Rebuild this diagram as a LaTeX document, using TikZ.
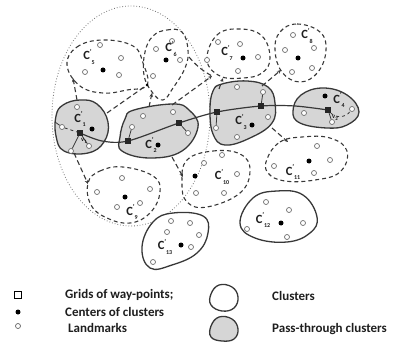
\documentclass[tikz,border=0pt]{standalone}
\usepackage{fontspec}
\setmainfont{Carlito}
\usetikzlibrary{arrows.meta}
\definecolor{outl}{HTML}{383838}
\definecolor{passfill}{HTML}{D6D6D6}
\definecolor{lmcol}{HTML}{707070}
\definecolor{txt}{HTML}{1E1E1E}
\newcommand\clab[1]{C\raisebox{0.85ex}{\fontsize{7}{7}\selectfont '}\raisebox{-0.7ex}{\fontsize{6}{6}\selectfont #1}}
\newcommand\vlab[1]{v\raisebox{-0.4ex}{\fontsize{5}{5}\selectfont #1}}
\tikzset{
  clus/.style={draw=outl, line width=1.3pt, fill=white},
  pass/.style={draw=outl, line width=1.3pt, fill=passfill},
  dcl/.style={draw=outl, line width=1.1pt, dash pattern=on 4pt off 3pt},
  link/.style={draw=outl, line width=1.1pt, dash pattern=on 5pt off 3pt, -{Stealth[length=4pt,width=3.5pt]}},
  plainlink/.style={draw=outl, line width=1.1pt, dash pattern=on 5pt off 3pt},
  lm/.style={circle, draw=lmcol, line width=0.7pt, fill=white, minimum size=5pt, inner sep=0pt},
  ctr/.style={circle, fill=black, minimum size=5pt, inner sep=0pt},
  jdot/.style={circle, fill=black, minimum size=3pt, inner sep=0pt},
  wp/.style={rectangle, fill=black!85, minimum size=6pt, inner sep=0pt},
  route/.style={draw=outl, line width=1.2pt},
  spoke/.style={draw=outl, line width=0.8pt},
  lab/.style={font=\bfseries\fontsize{12.5}{12.5}\selectfont, text=txt, inner sep=0pt},
  vl/.style={font=\bfseries\fontsize{6.5}{6.5}\selectfont, text=txt, inner sep=0pt},
  legtext/.style={font=\bfseries\fontsize{13}{14}\selectfont, text=txt, anchor=west, inner sep=0pt},
  region/.style={draw=black!55, line width=0.8pt, dotted},
}
\begin{document}
\begin{tikzpicture}[x=1pt,y=-1pt]
\useasboundingbox (0,0) rectangle (393,342);

% dotted region
\draw[region] (131,116) ellipse [x radius=79, y radius=110];

% dashed clusters
\draw[dcl] plot[smooth cycle, tension=0.7] coordinates {(67,65) (77,47) (103,40) (133,46) (143,63) (147,85) (127,90) (103,93) (80,86)};
\draw[dcl] plot[smooth cycle, tension=0.7] coordinates {(153,36) (167,30) (182,32) (188,50) (185,68) (173,88) (163,100) (152,92) (144,75) (145,52)};
\draw[dcl] plot[smooth cycle, tension=0.7] coordinates {(207,60) (217,35) (240,29) (262,36) (270,58) (262,73) (243,78) (220,76)};
\draw[dcl] plot[smooth cycle, tension=0.7] coordinates {(280,32) (297,24) (320,32) (326,50) (318,72) (300,82) (282,72) (275,50)};
\draw[dcl] plot[smooth cycle, tension=0.7] coordinates {(88,183) (100,171) (123,167) (153,176) (160,192) (150,213) (130,223) (107,218) (91,205)};
\draw[dcl] plot[smooth cycle, tension=0.7] coordinates {(187,160) (213,151) (240,154) (250,170) (240,193) (207,207) (187,202) (182,183)};
\draw[dcl] plot[smooth cycle, tension=0.7] coordinates {(267,159) (280,142) (302,137) (330,138) (347,151) (340,172) (315,180) (285,181) (268,173)};

% solid clusters
\draw[clus] plot[smooth cycle, tension=0.7] coordinates {(240,223) (253,198) (277,191) (303,195) (317,217) (310,233) (287,242) (255,238)};
\draw[clus] plot[smooth cycle, tension=0.7] coordinates {(153,222) (173,213) (203,216) (208,233) (197,253) (172,265) (150,268) (142,247)};

% pass-through clusters
\draw[pass] plot[smooth cycle, tension=0.7] coordinates {(63,105) (80,100) (97,104) (108,122) (104,142) (88,153) (64,151) (56,136) (56,116)};
\draw[pass] plot[smooth cycle, tension=0.7] coordinates {(125,119) (134,110) (173,104) (189,110) (198,127) (182,151) (150,158) (122,151) (120,137)};
\draw[pass] plot[smooth cycle, tension=0.7] coordinates {(213,91) (222,84) (247,81) (268,87) (275,103) (272,123) (250,138) (225,145) (213,134) (210,110)};
\draw[pass] plot[smooth cycle, tension=0.7] coordinates {(293,111) (301,95) (323,88) (347,95) (359,112) (347,125) (327,128) (300,123)};

% centres
\node[ctr] (k1) at (92,129) {};
\node[ctr] (k2) at (158,145) {};
\node[ctr] (k3) at (252,125) {};
\node[ctr] (k4) at (325,96) {};
\node[ctr] (k5) at (103,70) {};
\node[ctr] (k6) at (166,60) {};
\node[ctr] (k7) at (243,58) {};
\node[ctr] (k8) at (298,58) {};
\node[ctr] (k9) at (125,197) {};
\node[ctr] (k10) at (195,176) {};
\node[ctr] (k11) at (309,161) {};
\node[ctr] (k12) at (281,223) {};
\node[ctr] (k13) at (181,245) {};

% landmarks tied to way-points
\node[lm] (a1) at (77,107) {};
\node[lm] (a2) at (62,127) {};
\node[lm] (a3) at (89,146) {};
\node[lm] (a4) at (71,151) {};
\node[lm] (b1) at (143,116) {};
\node[lm] (b2) at (173,112) {};
\node[lm] (b3) at (132,127) {};
\node[lm] (b4) at (188,133) {};
\node[lm] (c1) at (237,87) {};
\node[lm] (c2) at (263,92) {};
\node[lm] (c3) at (216,128) {};
\node[lm] (c4) at (268,117) {};
\node[lm] (c5) at (237,137) {};
\node[lm] (d1) at (304,113) {};
\node[lm] (d2) at (352,109) {};
\node[lm] (d3) at (332,122) {};

% other landmarks
\foreach \p [count=\i] in {(100,45),(121,58),(85,72),(119,75),
  (156,49),(172,41),(180,60),(153,76),
  (218,42),(240,44),(207,60),(258,57),(238,71),
  (293,35),(314,48),(285,50),(292,72),(312,68),
  (122,178),(97,192),(150,189),(140,203),(117,207),
  (222,155),(204,163),(237,174),(196,193),(224,193),
  (317,146),(330,160),(274,166),(314,173),
  (266,202),(289,210),(247,229),(303,223),(287,237),
  (171,221),(190,223),(167,232),(199,235),(191,247),(153,262)}
  \node[lm] (m\i) at \p {};

% way-points
\node[wp] (w1) at (80,133) {};
\node[wp] (w2) at (128,141) {};
\node[wp] (w3) at (179,123) {};
\node[wp] (w4) at (217,112) {};
\node[wp] (w5) at (261,106) {};
\node[wp] (w6) at (328,110) {};

% spokes from way-points to landmarks
\coordinate (e1) at (55,122);
\draw[spoke] (e1) -- (a2);
\draw[spoke, dashed] (a2) -- (w1);
\draw[spoke] (w1) -- (a4);
\draw[spoke] (w1) -- (a3);
\draw[spoke] (w2) -- (b3);
\draw[spoke] (w3) -- (b4);
\draw[spoke] (w4) -- (c3);
\draw[spoke] (w5) -- (c2);
\draw[spoke] (w6) -- (d3);
\draw[spoke, dashed] (w6) to[bend right=50] (d2);

% route
\draw[route] plot[smooth, tension=0.5] coordinates {(w1.center) (102,141) (w2.center) (w3.center) (w4.center) (w5.center) (295,106) (w6.center)};
\node[wp] at (w1) {};
\node[wp] at (w2) {};
\node[wp] at (w3) {};
\node[wp] at (w4) {};
\node[wp] at (w5) {};
\node[wp] at (w6) {};

% links between clusters
\coordinate (s1) at (77,100);  \coordinate (t1) at (73,78);
\coordinate (s2) at (107,113); \node[jdot] (j2) at (147,85) {};
\coordinate (s3) at (149,107); \coordinate (t3) at (152,93);
\coordinate (s4) at (172,105); \coordinate (t4) at (212,76);
\coordinate (s5) at (189,57);
\coordinate (s6) at (219,89);  \coordinate (t6) at (223,78);
\coordinate (s7) at (262,86);  \coordinate (t7) at (281,70);
\coordinate (s8) at (272,128); \coordinate (t8) at (288,142);
\coordinate (s9) at (172,157); \coordinate (t9) at (183,177);
\coordinate (s10) at (74,153); \coordinate (t10) at (88,184);
\draw[link] (s1) -- (t1);
\draw[plainlink] (s2) -- (j2);
\draw[link] (s3) -- (t3);
\draw[link] (s4) -- (t4);
\draw[plainlink] (s5) to[bend right=10] (t4);
\draw[link] (s6) -- (t6);
\draw[link] (s7) -- (t7);
\draw[link] (s8) -- (t8);
\draw[link] (s9) -- (t9);
\draw[link] (s10) -- (t10);

% labels
\node[lab] (l1) at (80,119) {\clab{1}};
\node[lab] (l2) at (151,145) {\clab{2}};
\node[lab] (l3) at (241,122) {\clab{3}};
\node[lab] (l4) at (339,100) {\clab{4}};
\node[lab] (l5) at (89,57) {\clab{5}};
\node[lab] (l6) at (171,49) {\clab{6}};
\node[lab] (l7) at (227,53) {\clab{7}};
\node[lab] (l8) at (307,36) {\clab{8}};
\node[lab] (l9) at (132,212) {\clab{9}};
\node[lab] (l10) at (222,177) {\clab{10}};
\node[lab] (l11) at (293,172) {\clab{11}};
\node[lab] (l12) at (263,220) {\clab{12}};
\node[lab] (l13) at (165,247) {\clab{13}};
\node[vl] (v1) at (84,141) {\vlab{1}};
\node[vl] (v2) at (335,118) {\vlab{2}};

% legend
\node[rectangle, draw=black, line width=1.1pt, minimum size=7pt, inner sep=0pt] (g1) at (18,295) {};
\node[ctr] (g2) at (18,312) {};
\node[lm, draw=black!60] (g3) at (18,326) {};
\node[legtext] (gt1) at (65,295) {Grids of way-points;};
\node[legtext] (gt2) at (65,312) {Centers of clusters};
\node[legtext] (gt3) at (68,328) {Landmarks};
\draw[clus] plot[smooth cycle, tension=0.7] coordinates {(211,294) (219,285) (232,287) (238,297) (234,308) (222,311) (211,305)};
\draw[pass] plot[smooth cycle, tension=0.7] coordinates {(211,326) (219,317) (232,319) (238,329) (234,339) (222,341) (211,337)};
\node[legtext] (gt4) at (272,296) {Clusters};
\node[legtext] (gt5) at (272,329) {Pass-through clusters};
\end{tikzpicture}
\end{document}
